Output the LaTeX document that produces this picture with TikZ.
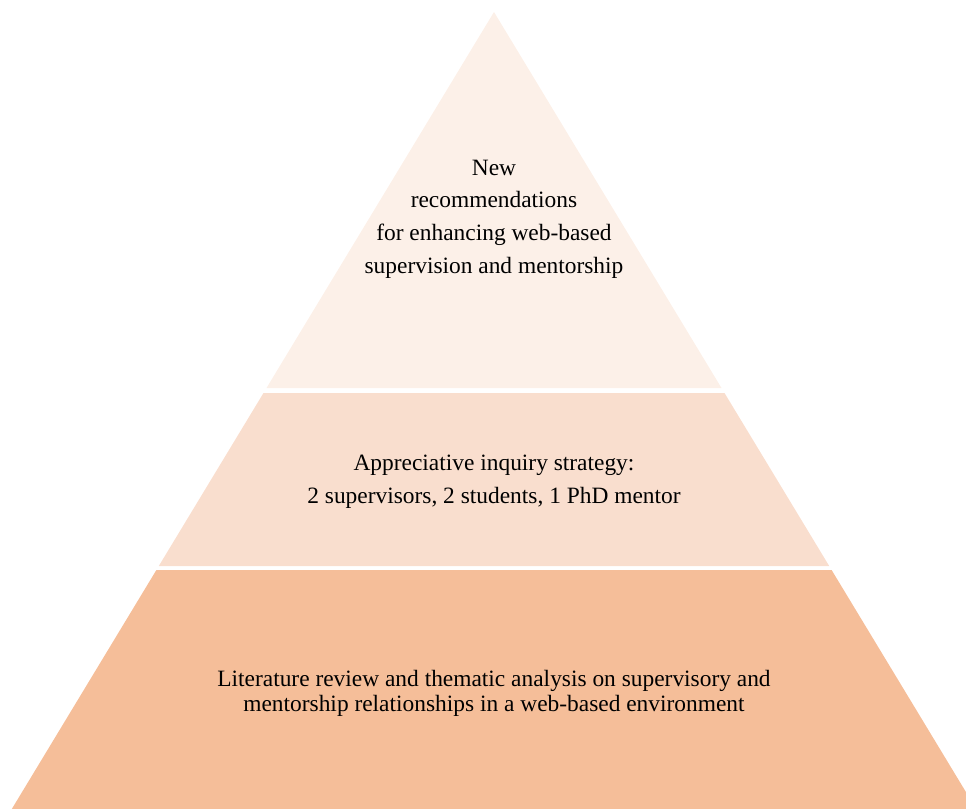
\documentclass[tikz,border=0pt]{standalone}
\usepackage{fontspec}
\setmainfont{Liberation Serif}
\definecolor{tierTop}{RGB}{252,240,232}
\definecolor{tierMid}{RGB}{249,222,206}
\definecolor{tierBot}{RGB}{245,190,153}
\AtBeginDocument{\lineskiplimit=-20pt\relax}
\begin{document}
\begin{tikzpicture}[x=1bp,y=-1bp,
  tiertext/.style={align=center,text=black,inner sep=0pt,
    font=\fontsize{23.5}{32.8}\selectfont}]
\useasboundingbox (0,0) rectangle (966,809);
\clip (0,0) rectangle (966,809);
% tiers (apex at 494,12; half-width slope 0.605)
\fill[tierTop] (494,12) -- (721.5,388) -- (266.5,388) -- cycle;
\fill[tierMid] (263.5,393) -- (724.5,393) -- (829.2,566) -- (158.8,566) -- cycle;
\fill[tierBot] (156.4,570) -- (831.6,570) -- (976.2,809) -- (11.8,809) -- cycle;
% texts
\node[tiertext] (top) at (494,219) {New\\recommendations\\for enhancing web-based\\supervision and mentorship};
\node[tiertext] (mid) at (494,481.5) {Appreciative inquiry strategy:\\2 supervisors, 2 students, 1 PhD mentor};
\node[tiertext, font=\fontsize{23.5}{25}\selectfont] (bot) at (494,693.5) {Literature review and thematic analysis on supervisory and\\mentorship relationships in a web-based environment};
\end{tikzpicture}
\end{document}
